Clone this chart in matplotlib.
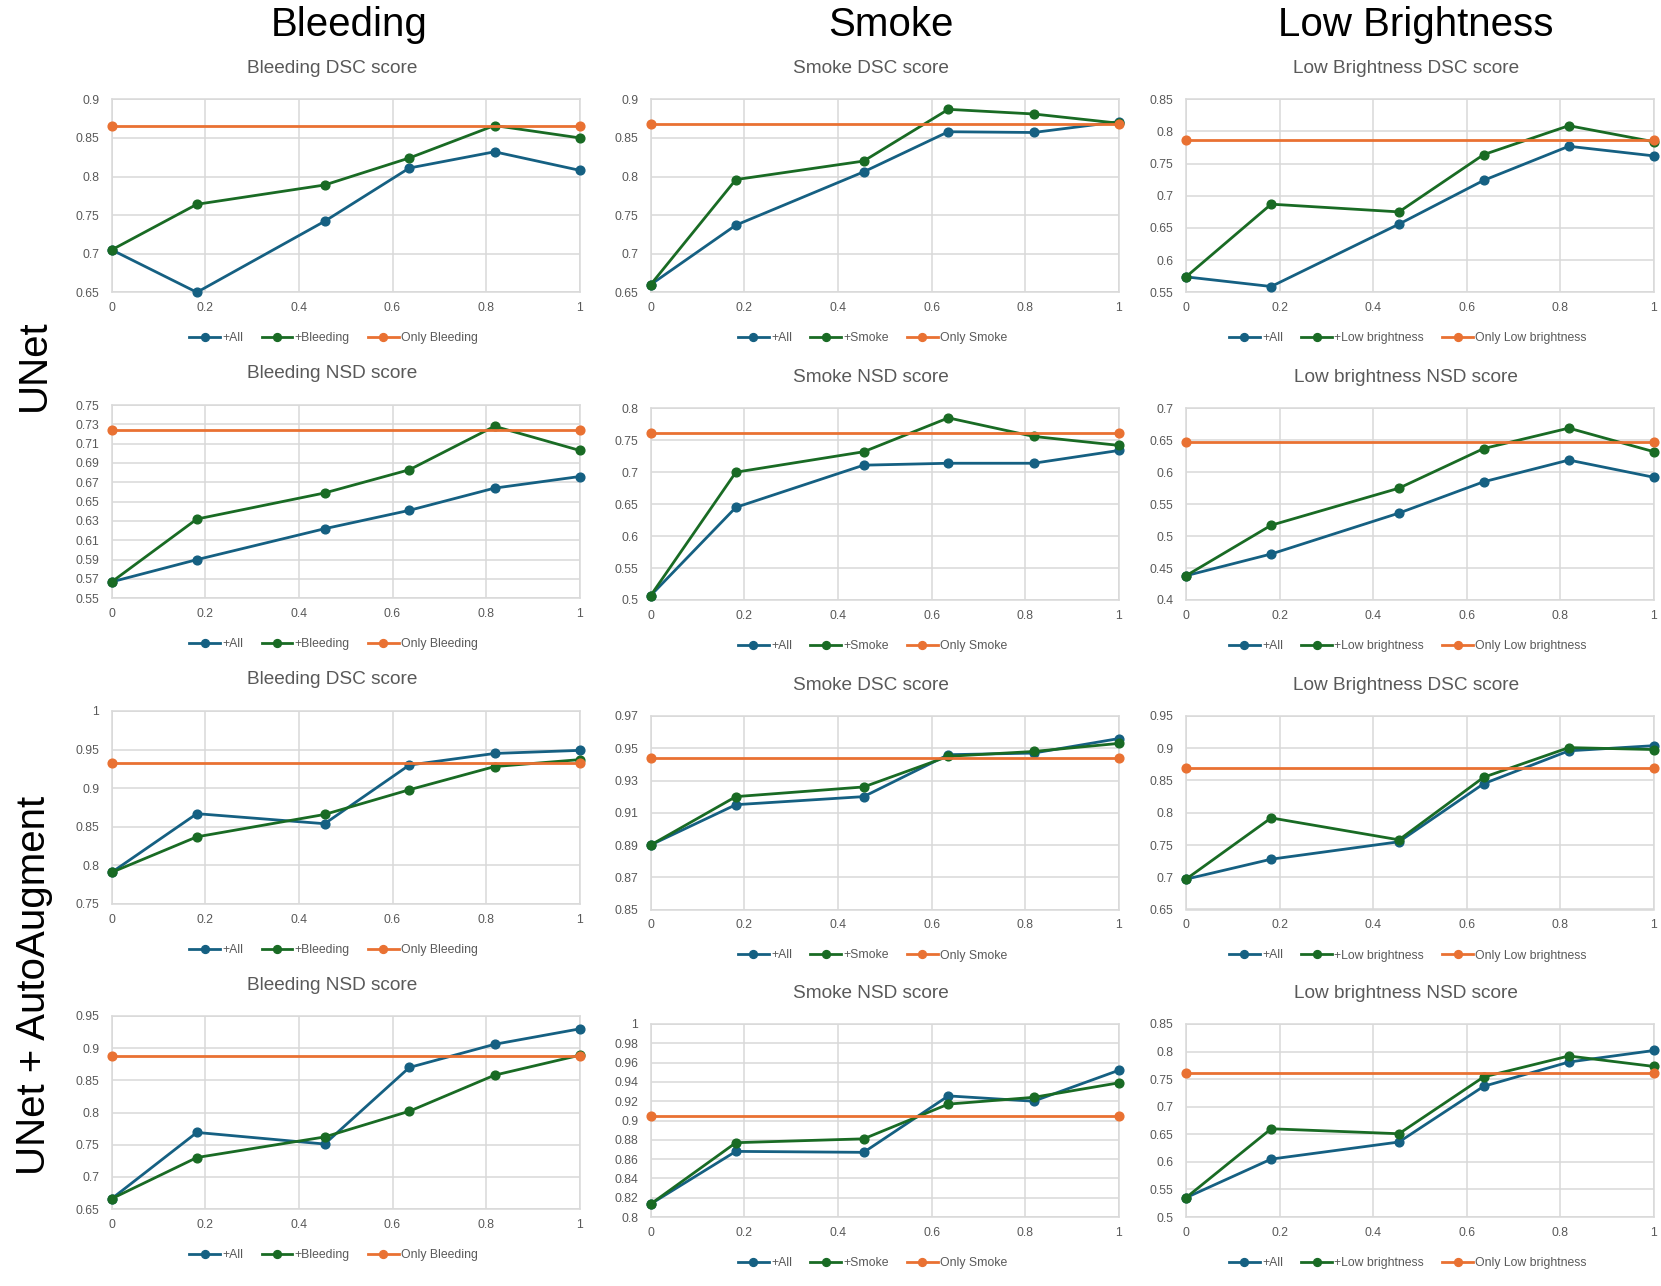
import numpy as np
import matplotlib
matplotlib.use("Agg")
import matplotlib.pyplot as plt
from matplotlib.ticker import FuncFormatter

plt.rcParams['font.family'] = ['Liberation Sans', 'DejaVu Sans']

# ---------------- data ----------------
x_vals = [0, 0.182, 0.455, 0.636, 0.818, 1]
only_x = [0, 1]

col_headers = ["Bleeding", "Smoke", "Low Brightness"]
row_headers = ["UNet", "UNet + AutoAugment"]
cat_labels = ["Bleeding", "Smoke", "Low brightness"]
only_labels = ["Only Bleeding", "Only Smoke", "Only Low brightness"]
titles_dsc = ["Bleeding DSC score", "Smoke DSC score", "Low Brightness DSC score"]
titles_nsd = ["Bleeding NSD score", "Smoke NSD score", "Low brightness NSD score"]

# UNet
unet_bleed_dsc_all = [0.705, 0.650, 0.742, 0.811, 0.832, 0.808]
unet_bleed_dsc_cat = [0.705, 0.764, 0.789, 0.824, 0.866, 0.850]
unet_bleed_dsc_only = 0.865
unet_bleed_nsd_all = [0.567, 0.590, 0.622, 0.641, 0.664, 0.676]
unet_bleed_nsd_cat = [0.567, 0.632, 0.659, 0.683, 0.728, 0.703]
unet_bleed_nsd_only = 0.724
unet_smoke_dsc_all = [0.660, 0.737, 0.806, 0.858, 0.857, 0.871]
unet_smoke_dsc_cat = [0.660, 0.796, 0.820, 0.887, 0.881, 0.869]
unet_smoke_dsc_only = 0.8685
unet_smoke_nsd_all = [0.507, 0.645, 0.711, 0.714, 0.714, 0.734]
unet_smoke_nsd_cat = [0.507, 0.700, 0.732, 0.785, 0.756, 0.742]
unet_smoke_nsd_only = 0.762
unet_lowb_dsc_all = [0.574, 0.559, 0.656, 0.724, 0.777, 0.762]
unet_lowb_dsc_cat = [0.574, 0.687, 0.675, 0.764, 0.809, 0.784]
unet_lowb_dsc_only = 0.786
unet_lowb_nsd_all = [0.438, 0.472, 0.536, 0.585, 0.619, 0.592]
unet_lowb_nsd_cat = [0.438, 0.517, 0.575, 0.637, 0.669, 0.632]
unet_lowb_nsd_only = 0.647

# UNet + AutoAugment
aa_bleed_dsc_all = [0.791, 0.867, 0.854, 0.930, 0.945, 0.949]
aa_bleed_dsc_cat = [0.791, 0.837, 0.866, 0.898, 0.928, 0.937]
aa_bleed_dsc_only = 0.933
aa_bleed_nsd_all = [0.666, 0.769, 0.751, 0.870, 0.906, 0.930]
aa_bleed_nsd_cat = [0.666, 0.730, 0.762, 0.802, 0.858, 0.889]
aa_bleed_nsd_only = 0.888
aa_smoke_dsc_all = [0.890, 0.915, 0.920, 0.946, 0.947, 0.956]
aa_smoke_dsc_cat = [0.890, 0.920, 0.926, 0.945, 0.948, 0.953]
aa_smoke_dsc_only = 0.944
aa_smoke_nsd_all = [0.8135, 0.868, 0.867, 0.9255, 0.920, 0.952]
aa_smoke_nsd_cat = [0.8135, 0.877, 0.881, 0.917, 0.924, 0.939]
aa_smoke_nsd_only = 0.905
aa_lowb_dsc_all = [0.697, 0.728, 0.755, 0.845, 0.896, 0.904]
aa_lowb_dsc_cat = [0.697, 0.792, 0.758, 0.855, 0.901, 0.898]
aa_lowb_dsc_only = 0.869
aa_lowb_nsd_all = [0.535, 0.605, 0.636, 0.737, 0.781, 0.802]
aa_lowb_nsd_cat = [0.535, 0.660, 0.651, 0.754, 0.792, 0.773]
aa_lowb_nsd_only = 0.762

# y axis ranges (lo, hi, step) per panel row/col
y_ranges = [
    [(0.65, 0.90, 0.05), (0.65, 0.90, 0.05), (0.55, 0.85, 0.05)],
    [(0.55, 0.75, 0.02), (0.50, 0.80, 0.05), (0.40, 0.70, 0.05)],
    [(0.75, 1.00, 0.05), (0.85, 0.97, 0.02), (0.65, 0.95, 0.05)],
    [(0.65, 0.95, 0.05), (0.80, 1.00, 0.02), (0.50, 0.85, 0.05)],
]

panels = [
    [(unet_bleed_dsc_all, unet_bleed_dsc_cat, unet_bleed_dsc_only),
     (unet_smoke_dsc_all, unet_smoke_dsc_cat, unet_smoke_dsc_only),
     (unet_lowb_dsc_all, unet_lowb_dsc_cat, unet_lowb_dsc_only)],
    [(unet_bleed_nsd_all, unet_bleed_nsd_cat, unet_bleed_nsd_only),
     (unet_smoke_nsd_all, unet_smoke_nsd_cat, unet_smoke_nsd_only),
     (unet_lowb_nsd_all, unet_lowb_nsd_cat, unet_lowb_nsd_only)],
    [(aa_bleed_dsc_all, aa_bleed_dsc_cat, aa_bleed_dsc_only),
     (aa_smoke_dsc_all, aa_smoke_dsc_cat, aa_smoke_dsc_only),
     (aa_lowb_dsc_all, aa_lowb_dsc_cat, aa_lowb_dsc_only)],
    [(aa_bleed_nsd_all, aa_bleed_nsd_cat, aa_bleed_nsd_only),
     (aa_smoke_nsd_all, aa_smoke_nsd_cat, aa_smoke_nsd_only),
     (aa_lowb_nsd_all, aa_lowb_nsd_cat, aa_lowb_nsd_only)],
]

# ---------------- layout (pixels) ----------------
W, H = 1661, 1286
col_left = [111.7, 650.7, 1186.0]
plot_w = 468.0
# (top, bottom) per row, per column
row_tb = [
    [(99.3, 292.3), (99.3, 292.3), (99.3, 292.3)],
    [(405.0, 598.3), (408.3, 600.0), (408.3, 600.0)],
    [(711.0, 904.0), (716.0, 909.5), (716.0, 909.5)],
    [(1016.0, 1209.0), (1024.0, 1217.0), (1024.0, 1217.0)],
]

BLUE = "#156082"
GREEN = "#196B24"
ORANGE = "#E97132"
GRID = "#D9D9D9"
TXT = "#595959"


def fx(p):
    return p / W


def fy(p):
    return 1 - p / H


fig = plt.figure(figsize=(W / 100, H / 100), dpi=100)
fig.patch.set_facecolor("white")

fmt = FuncFormatter(lambda v, pos: f"{round(v, 4):g}")

for r in range(4):
    for c in range(3):
        left = col_left[c]
        top, bottom = row_tb[r][c]
        ax = fig.add_axes([fx(left), fy(bottom), plot_w / W, (bottom - top) / H])
        all_v, cat_v, only_v = panels[r][c]
        lw = 2.0
        ms = 6.3
        l1, = ax.plot(x_vals, all_v, color=BLUE, lw=lw, marker='o', ms=ms, clip_on=False, zorder=3)
        l2, = ax.plot(x_vals, cat_v, color=GREEN, lw=lw, marker='o', ms=ms, clip_on=False, zorder=3)
        l3, = ax.plot(only_x, [only_v] * len(only_x), color=ORANGE, lw=lw, marker='o', ms=ms,
                      clip_on=False, zorder=3)
        lo, hi, st = y_ranges[r][c]
        ax.set_ylim(lo, hi)
        ax.set_yticks(np.arange(lo, hi + st / 2, st))
        ax.yaxis.set_major_formatter(fmt)
        ax.set_xlim(0, 1)
        ax.set_xticks([0, 0.2, 0.4, 0.6, 0.8, 1.0])
        ax.xaxis.set_major_formatter(fmt)
        ax.grid(True, color=GRID, lw=1.1)
        ax.set_axisbelow(True)
        for s in ax.spines.values():
            s.set_color(GRID)
            s.set_linewidth(1.1)
        ax.tick_params(length=0, labelsize=8.8, labelcolor=TXT)
        ax.tick_params(axis='y', pad=9)
        ax.tick_params(axis='x', pad=7)

        title = titles_dsc[c] if r % 2 == 0 else titles_nsd[c]
        fig.text(fx(left + 220), fy(top - 31), title, ha='center', va='center',
                 fontsize=13.7, color=TXT)
        ax.legend([l1, l2, l3], ["+All", "+" + cat_labels[c], only_labels[c]],
                  loc='center', bbox_to_anchor=(fx(left + 222), fy(bottom + 46)),
                  bbox_transform=fig.transFigure, ncol=3, frameon=False,
                  fontsize=8.8, handlelength=2.5, handletextpad=0.2,
                  columnspacing=1.5, labelcolor=TXT, markerscale=0.9)

header_x = [349.6, 891.0, 1416.0]
for c in range(3):
    fig.text(fx(header_x[c]), fy(25), col_headers[c], ha='center', va='center',
             fontsize=29, color='black')

row_y = [365, 985]
for i in range(2):
    fig.text(fx(34), fy(row_y[i]), row_headers[i], ha='center', va='center',
             fontsize=29, rotation=90, color='black')

fig.savefig("out.png", dpi=100, facecolor="white")
